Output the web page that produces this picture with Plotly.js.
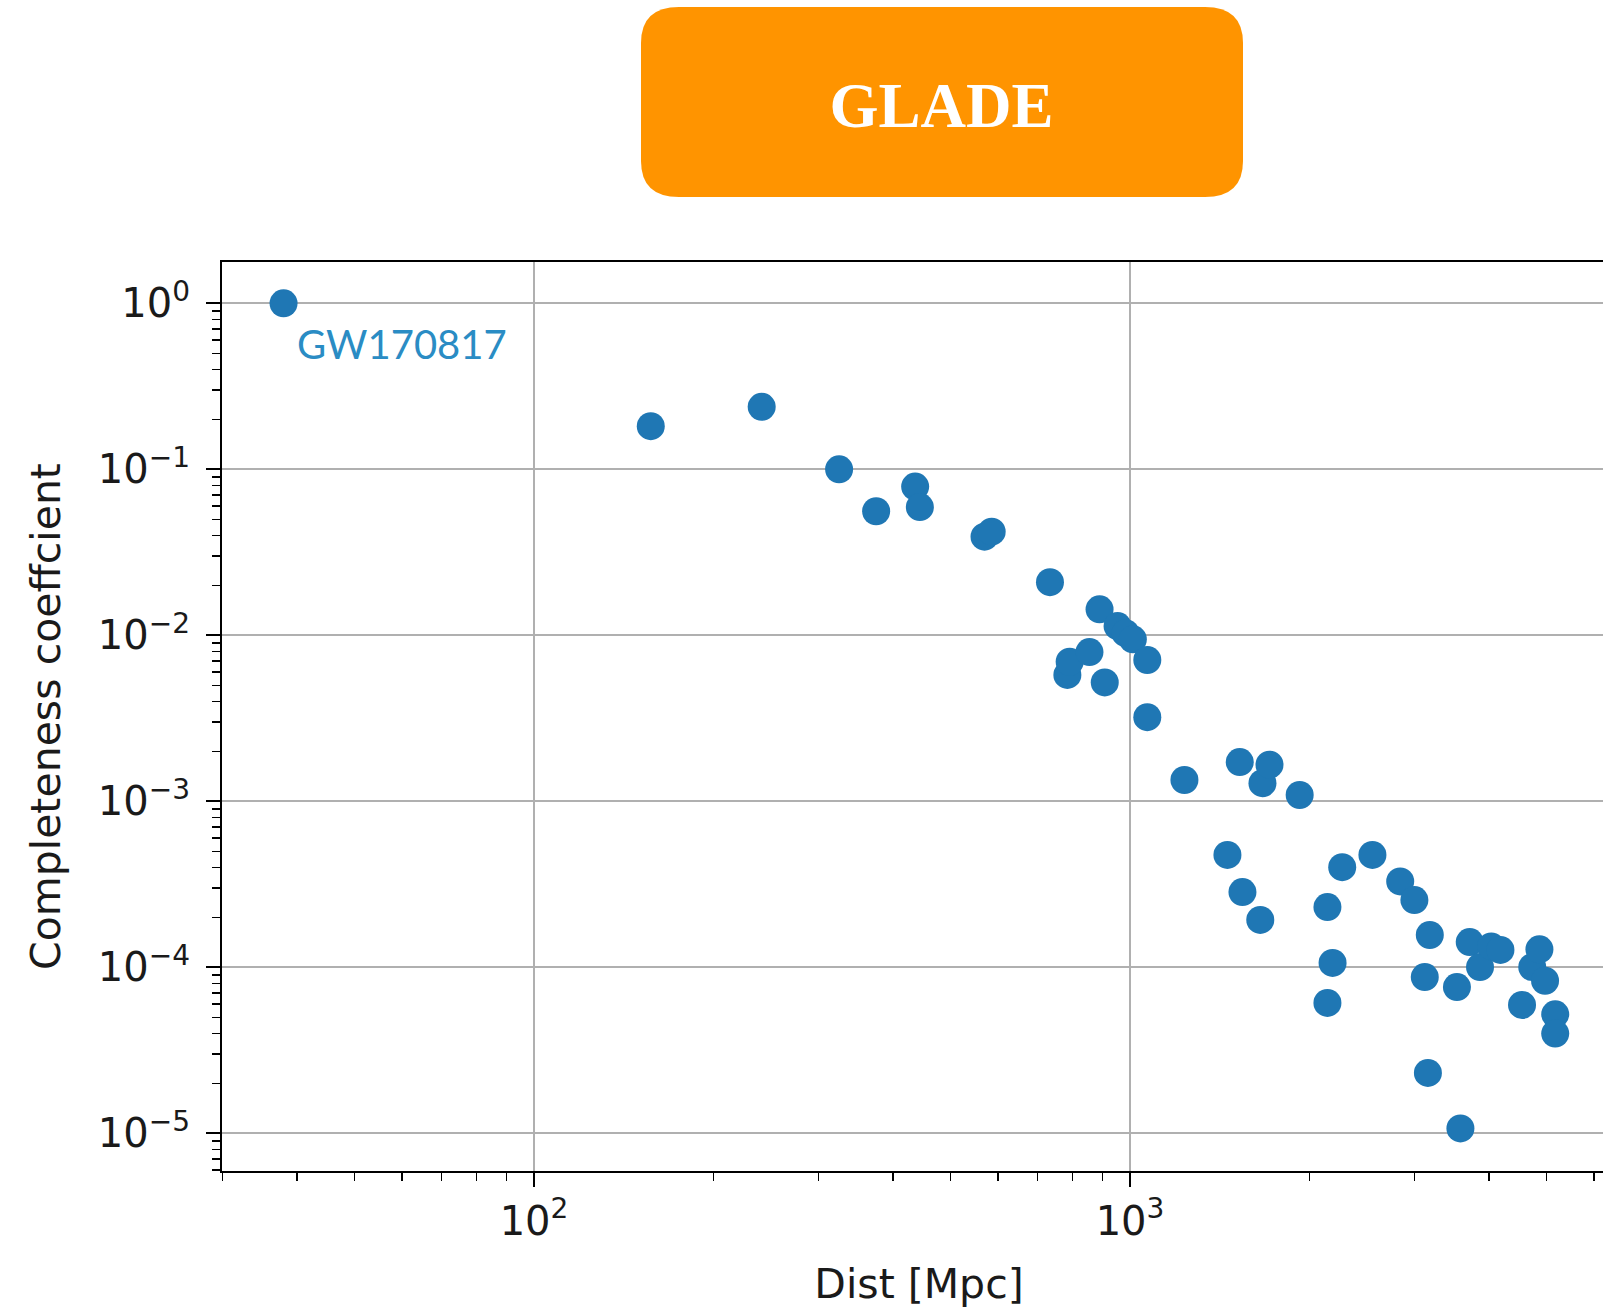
<!DOCTYPE html>
<html>
<head>
<meta charset="utf-8">
<script src="https://cdn.plot.ly/plotly-3.0.1.min.js"></script>
<style>
  html, body { margin: 0; padding: 0; overflow: hidden; background: #ffffff; }
  #chart { width: 1618px; height: 1316px; }
</style>
</head>
<body>
<div id="chart"></div>
<script>
// ---- data ----
const distMpc = [38.0, 157, 241, 325, 375, 436, 444, 570, 586, 734,
  785, 792, 855, 889, 907, 953, 983, 1011, 1069, 1069,
  1234, 1457, 1528, 1544, 1654, 1668, 1714, 1926, 2144, 2144,
  2187, 2270, 2551, 2840, 3000, 3123, 3161, 3184, 3536, 3584,
  3715, 3866, 4037, 4183, 4547, 4730, 4863, 4970, 5169, 5169];
const completeness = [1.0, 0.182, 0.238, 0.100, 0.0559, 0.0787, 0.0592, 0.0393, 0.0421, 0.0209,
  0.00577, 0.00693, 0.00792, 0.01434, 0.0052, 0.01136, 0.0103, 0.00946, 0.0071, 0.00321,
  0.001344, 0.000475, 0.001722, 0.000284, 0.000193, 0.001285, 0.001663, 0.001091, 0.0002305, 0.000061,
  0.0001063, 0.000401, 0.000475, 0.000329, 0.000254, 0.0000873, 0.0000231, 0.0001565, 0.000076, 0.0000107,
  0.0001418, 0.0001003, 0.0001336, 0.0001272, 0.0000593, 0.0001003, 0.0001284, 0.0000830, 0.0000521, 0.0000399];

const labelText = 'GW170817';
const labelPoint = [38.0, 1.0];
const titleText = 'GLADE';

const xTickVals = [100, 1000];
const xTickText = ['10<sup>2</sup>', '10<sup>3</sup>'];
const yTickVals = [1, 0.1, 0.01, 0.001, 0.0001, 0.00001];
const yTickText = ['10<sup>0</sup>', '10<sup>\u22121</sup>', '10<sup>\u22122</sup>',
  '10<sup>\u22123</sup>', '10<sup>\u22124</sup>', '10<sup>\u22125</sup>'];

// minor log ticks 2..9 per decade
function minorTicks(lo, hi) {
  const out = [];
  for (let e = lo; e <= hi; e++) {
    for (let m = 2; m <= 9; m++) out.push(m * Math.pow(10, e));
  }
  return out;
}

// ---- layout geometry ----
const W = 1618, H = 1316;
const M = { l: 222, r: 2, t: 262, b: 145 };
const plotW = W - M.l - M.r, plotH = H - M.t - M.b;
const px2paperX = p => (p - M.l) / plotW;
const px2paperY = p => (H - M.b - p) / plotH;

// rounded orange title box (pixel coords -> paper)
function roundedBox(L, T, R, B, rx, ry) {
  const X = px2paperX, Y = px2paperY;
  return 'M ' + X(L + rx) + ',' + Y(T) +
    ' L ' + X(R - rx) + ',' + Y(T) +
    ' Q ' + X(R) + ',' + Y(T) + ' ' + X(R) + ',' + Y(T + ry) +
    ' L ' + X(R) + ',' + Y(B - ry) +
    ' Q ' + X(R) + ',' + Y(B) + ' ' + X(R - rx) + ',' + Y(B) +
    ' L ' + X(L + rx) + ',' + Y(B) +
    ' Q ' + X(L) + ',' + Y(B) + ' ' + X(L) + ',' + Y(B - ry) +
    ' L ' + X(L) + ',' + Y(T + ry) +
    ' Q ' + X(L) + ',' + Y(T) + ' ' + X(L + rx) + ',' + Y(T) + ' Z';
}

const font = 'DejaVu Sans, sans-serif';

const trace = {
  type: 'scatter',
  mode: 'markers',
  x: distMpc,
  y: completeness,
  marker: { color: '#1f77b4', size: 28, line: { width: 0 } },
  hoverinfo: 'x+y'
};

const layout = {
  width: W, height: H,
  margin: M,
  paper_bgcolor: '#ffffff',
  plot_bgcolor: '#ffffff',
  showlegend: false,
  font: { family: font, size: 40, color: '#000000' },
  title: {
    text: '<b>' + titleText + '</b>',
    font: { family: 'Liberation Serif, serif', size: 63, color: '#ffffff' },
    xref: 'container', yref: 'container',
    x: 941.5 / W, xanchor: 'center',
    y: 1 - 105 / H, yanchor: 'middle'
  },
  xaxis: {
    type: 'log',
    range: [1.4765, 3.8154],
    tickmode: 'array',
    tickvals: xTickVals,
    ticktext: xTickText,
    ticks: 'outside', ticklen: 14, tickwidth: 2, tickcolor: '#000000',
    minor: { tickvals: minorTicks(1, 3), ticks: 'outside', ticklen: 8, tickwidth: 1.5, tickcolor: '#000000', showgrid: false },
    showgrid: true, gridcolor: '#b0b0b0', gridwidth: 2,
    showline: true, linecolor: '#000000', linewidth: 2, mirror: true,
    zeroline: false,
    tickfont: { family: font, size: 40, color: '#1a1a1a' },
    title: { text: 'Dist [Mpc]', font: { family: font, size: 41, color: '#1a1a1a' }, standoff: 26 },
    automargin: false
  },
  yaxis: {
    type: 'log',
    range: [-5.2271, 0.2488],
    tickmode: 'array',
    tickvals: yTickVals,
    ticktext: yTickText,
    ticks: 'outside', ticklen: 14, tickwidth: 2, tickcolor: '#000000',
    ticklabelstandoff: 8,
    minor: { tickvals: minorTicks(-6, 0), ticks: 'outside', ticklen: 8, tickwidth: 1.5, tickcolor: '#000000', showgrid: false },
    showgrid: true, gridcolor: '#b0b0b0', gridwidth: 2,
    showline: true, linecolor: '#000000', linewidth: 2, mirror: false,
    zeroline: false,
    tickfont: { family: font, size: 40, color: '#1a1a1a' },
    title: { text: 'Completeness coeffcient', font: { family: font, size: 41, color: '#1a1a1a' }, standoff: 24 },
    automargin: false
  },
  shapes: [{
    type: 'path',
    xref: 'paper', yref: 'paper',
    path: roundedBox(641, 7, 1243, 197, 38, 36),
    fillcolor: '#ff9400',
    line: { width: 0 },
    layer: 'below'
  }],
  annotations: [{
    x: Math.log10(labelPoint[0]), y: Math.log10(labelPoint[1]),
    xref: 'x', yref: 'y',
    text: labelText,
    showarrow: false,
    xanchor: 'left', yanchor: 'middle',
    xshift: 11, yshift: -41,
    font: { family: 'Lato, sans-serif', size: 40, color: '#2a8cc4' }
  }]
};

Plotly.newPlot('chart', [trace], layout, { displayModeBar: false, staticPlot: true });
</script>
</body>
</html>
